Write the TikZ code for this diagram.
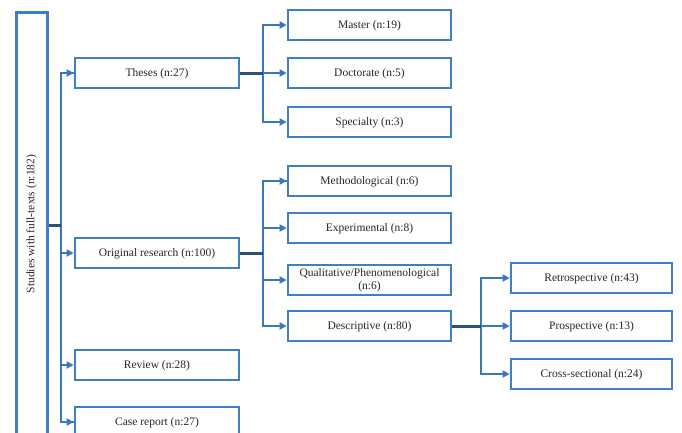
\documentclass[tikz,border=0pt]{standalone}
\usepackage{fontspec}
\setmainfont{Liberation Serif}
\usetikzlibrary{arrows.meta}
\definecolor{boxblue}{HTML}{3F7FC6}
\definecolor{linkblue}{HTML}{3A78BE}
\definecolor{stubblue}{HTML}{2E4F7A}
\definecolor{txt}{HTML}{262626}
\tikzset{
  catbox/.style={draw=boxblue, line width=2.6pt, fill=white, minimum width=164pt, minimum height=30pt, inner sep=1pt, font=\fontsize{11.5}{12.5}\selectfont, text=txt, align=center, text height=8.2pt, text depth=1.8pt},
  subbox/.style={catbox, minimum width=163pt},
  link/.style={draw=linkblue, line width=1.8pt, -{Triangle[length=7pt,width=7pt]}},
  bus/.style={draw=linkblue, line width=1.8pt},
  stub/.style={draw=stubblue, line width=3pt},
}
\begin{document}
\begin{tikzpicture}[x=1pt,y=-1pt]
\useasboundingbox (0,0) rectangle (682,432);
\clip (0,0) rectangle (682,432);
% root
\node[draw=boxblue, line width=2.6pt, minimum width=31pt, minimum height=426pt, inner sep=0pt, anchor=north west] (root) at (15,11) {};
\node[rotate=90, font=\fontsize{11.5}{11.5}\selectfont, text=txt] (roottxt) at (31.5,224) {Studies with full-texts (n:182)};
% level 1
\node[catbox] (theses) at (157,73) {Theses (n:27)};
\node[catbox] (orig) at (157,253) {Original research (n:100)};
\node[catbox] (review) at (157,365) {Review (n:28)};
\node[catbox] (case) at (157,422) {Case report (n:27)};
% level 2
\node[subbox] (master) at (369.5,25) {Master (n:19)};
\node[subbox] (doct) at (369.5,73) {Doctorate (n:5)};
\node[subbox] (spec) at (369.5,122) {Specialty (n:3)};
\node[subbox] (meth) at (369.5,181) {Methodological (n:6)};
\node[subbox] (exper) at (369.5,228) {Experimental (n:8)};
\node[subbox, text height=, text depth=] (qual) at (369.5,280) {Qualitative/Phenomenological\\(n:6)};
\node[subbox] (desc) at (369.5,326) {Descriptive (n:80)};
% level 3
\node[subbox, minimum width=161pt] (retro) at (591.5,278) {Retrospective (n:43)};
\node[subbox, minimum width=161pt] (prosp) at (591.5,326) {Prospective (n:13)};
\node[subbox, minimum width=161pt] (cross) at (591.5,374) {Cross-sectional (n:24)};
% bus coordinates
\coordinate (b0) at (61,225);
\coordinate (b1) at (263,73);
\coordinate (b2) at (263,253);
\coordinate (b3) at (481,326);
% root connectors
\draw[bus] (b0) |- (theses.west);
\draw[bus] (b0) |- (case.west);
\draw[link] (b0 |- theses.west) -- (theses.west);
\draw[link] (b0 |- orig.west) -- (orig.west);
\draw[link] (b0 |- review.west) -- (review.west);
\draw[link] (b0 |- case.west) -- (case.west);
\draw[stub] (root.east |- b0) -- (b0);
% theses connectors
\draw[link] (b1) |- (master.west);
\draw[link] (b1) -- (doct.west);
\draw[link] (b1) |- (spec.west);
\draw[stub] (theses.east) -- (b1);
% original research connectors
\draw[bus] (b2) |- (meth.west);
\draw[link] (b2 |- meth.west) -- (meth.west);
\draw[link] (b2 |- exper.west) -- (exper.west);
\draw[link] (b2 |- qual.west) -- (qual.west);
\draw[link] (b2) |- (desc.west);
\draw[stub] (orig.east) -- (b2);
% descriptive connectors
\draw[link] (b3) |- (retro.west);
\draw[link] (b3) -- (prosp.west);
\draw[link] (b3) |- (cross.west);
\draw[stub] (desc.east) -- (b3);
\end{tikzpicture}
\end{document}
